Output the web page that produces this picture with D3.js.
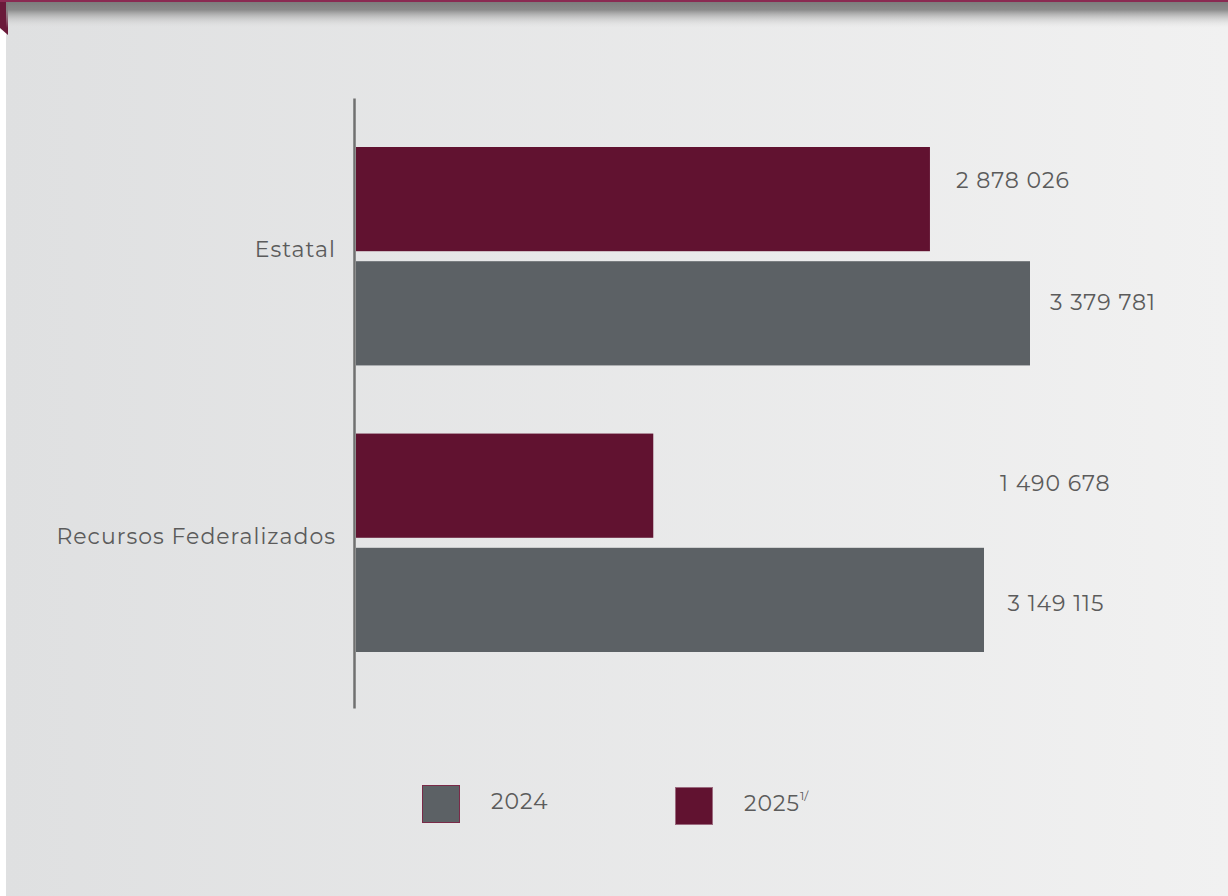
<!DOCTYPE html>
<html><head><meta charset="utf-8">
<script src="https://cdn.jsdelivr.net/npm/d3@7"></script>
<style>html,body{margin:0;padding:0;background:#fff;}svg{display:block;}</style>
</head><body>
<svg id="c" width="1228" height="896"></svg>
<script>
const categories = ["Estatal", "Recursos Federalizados"];
const seriesKeys = ["2025", "2024"];
const values2024 = [3379781, 3149115];
const values2025 = [2878026, 1490678];
const legendLabels = ["2024", "2025"];
const legendSup = ["", "1/"];

const colors = {"2024": "#5c6165", "2025": "#611230"};
const font = "Montserrat, 'Open Sans', 'Noto Sans', sans-serif";
const textColor = "#5b5b5b";
const ls = "1px";

const svg = d3.select("#c");
const defs = svg.append("defs");
const bg = defs.append("linearGradient").attr("id","bg").attr("x1","0").attr("x2","1").attr("y1","0").attr("y2","0");
bg.append("stop").attr("offset","0").attr("stop-color","#dfe0e1");
bg.append("stop").attr("offset","1").attr("stop-color","#f1f1f1");
const sh = defs.append("linearGradient").attr("id","sh").attr("x1","0").attr("x2","0").attr("y1","0").attr("y2","1");
sh.append("stop").attr("offset","0").attr("stop-color","#7c7c7c").attr("stop-opacity",1);
sh.append("stop").attr("offset","0.3").attr("stop-color","#868686").attr("stop-opacity",0.95);
sh.append("stop").attr("offset","1").attr("stop-color","#e0e0e0").attr("stop-opacity",0);

svg.append("rect").attr("x",0).attr("y",0).attr("width",1228).attr("height",896).attr("fill","#ffffff");
svg.append("rect").attr("x",6).attr("y",0).attr("width",1222).attr("height",896).attr("fill","url(#bg)");
svg.append("path").attr("d","M0,0H8V35L0,28Z").attr("fill","#6a1a3a");
svg.append("rect").attr("x",6).attr("y",2).attr("width",1222).attr("height",26).attr("fill","url(#sh)");
svg.append("rect").attr("x",0).attr("y",0).attr("width",1228).attr("height",2).attr("fill","#8a2a52");

const x = d3.scaleLinear().domain([0, d3.max(values2024.concat(values2025))]).range([356, 1030]);
const y0 = d3.scaleBand().domain(categories).range([147, 652]).paddingInner(0.2378).paddingOuter(0);
const y1 = d3.scaleBand().domain(seriesKeys).range([0, y0.bandwidth()]).paddingInner(0.0877).paddingOuter(0);

const rows = [];
categories.forEach((c,i)=>{
  rows.push({cat:c, key:"2025", v:values2025[i]});
  rows.push({cat:c, key:"2024", v:values2024[i]});
});

svg.append("g").selectAll("rect").data(rows).join("rect")
  .attr("x", x(0))
  .attr("y", d=>y0(d.cat)+y1(d.key))
  .attr("width", d=>x(d.v)-x(0))
  .attr("height", y1.bandwidth())
  .attr("fill", d=>colors[d.key]);

// value label offsets from bar end (layout)
const labelOffsets = {"Estatal|2025":[83, -19], "Estatal|2024":[73, -11], "Recursos Federalizados|2025":[402, -2], "Recursos Federalizados|2024":[72, 4]};
const fmt = v => d3.format(",")(v).replace(/,/g, " ");
svg.append("g").selectAll("text").data(rows).join("text")
  .attr("x", d=>x(d.v)+labelOffsets[d.cat+"|"+d.key][0])
  .attr("y", d=>y0(d.cat)+y1(d.key)+y1.bandwidth()/2+labelOffsets[d.cat+"|"+d.key][1])
  .attr("text-anchor","middle").attr("dominant-baseline","central")
  .attr("font-family",font).attr("font-size",22).attr("letter-spacing",ls).attr("fill",textColor)
  .text(d=>fmt(d.v));

// axis
const yAxis = d3.axisLeft(d3.scaleBand().domain(categories).range([98,708])).tickSize(0).tickPadding(18);
const ag = svg.append("g").attr("transform","translate(354,0)").call(yAxis);
ag.select(".domain").attr("stroke","#707070").attr("stroke-width",2.5);
ag.selectAll(".tick").attr("transform", d=>`translate(0,${y0(d)+y0.bandwidth()/2 - 6})`);
ag.selectAll(".tick text").attr("font-family",font).attr("font-size",22).attr("letter-spacing",ls).attr("fill",textColor).attr("dy","0.32em");

// legend
const leg = [{k:"2024", x:422, y:785, stroke:"#7a2a48"},{k:"2025", x:675, y:787, stroke:"#9b6a7e"}];
const lg = svg.append("g").selectAll("g").data(leg).join("g").attr("transform",d=>`translate(${d.x},${d.y})`);
lg.append("rect").attr("x",0.5).attr("y",0.5).attr("width",37).attr("height",37).attr("fill",d=>colors[d.k]).attr("stroke",d=>d.stroke).attr("stroke-width",1);
const lt = lg.append("text").attr("x",69).attr("y",16).attr("dominant-baseline","central")
  .attr("font-family",font).attr("font-size",22).attr("letter-spacing",ls).attr("fill",textColor);
lt.append("tspan").text((d,i)=>legendLabels[i]);
lt.append("tspan").attr("font-size",12).attr("letter-spacing","0px").attr("dy",-8).text((d,i)=>legendSup[i]);
</script>
</body></html>
